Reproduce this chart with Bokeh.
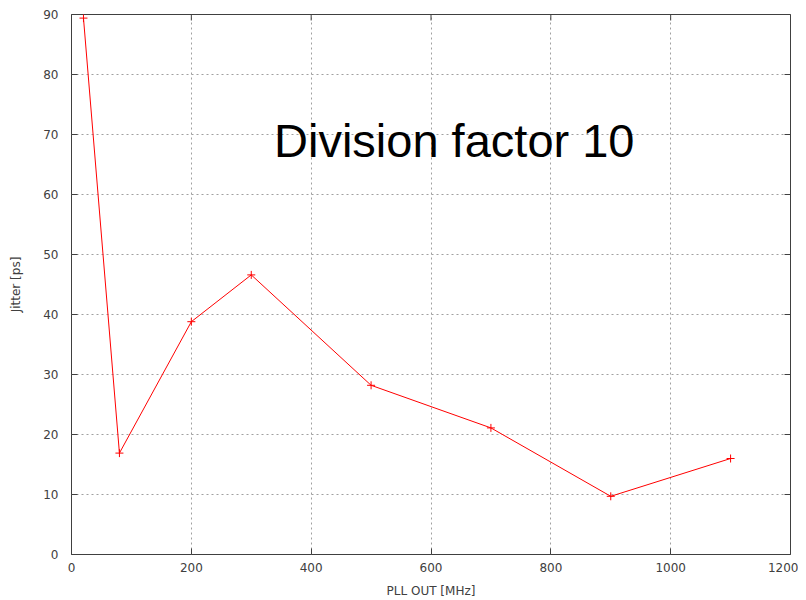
import math
from bokeh.plotting import figure
from bokeh.models import Range1d, FixedTicker, Label, ColumnDataSource
from bokeh.embed import file_html
from bokeh.resources import INLINE

# data
pll_out_mhz = [20, 80, 200, 300, 500, 700, 900, 1100]
jitter_ps = [89.4, 16.9, 38.8, 46.6, 28.2, 21.1, 9.7, 16.0]
x_ticks = [0, 200, 400, 600, 800, 1000, 1200]
y_ticks = [0, 10, 20, 30, 40, 50, 60, 70, 80, 90]
title_text = "Division factor 10"
x_label = "PLL OUT [MHz]"
y_label = "Jitter [ps]"

x_min, x_max = 0, 1200
y_min, y_max = 0, 90

src = ColumnDataSource(dict(x=pll_out_mhz, y=jitter_ps))

p = figure(frame_width=719, frame_height=540, output_backend="svg", toolbar_location=None,
           x_range=Range1d(x_min, x_max), y_range=Range1d(y_min, y_max),
           min_border_left=71, min_border_right=8, min_border_top=14, min_border_bottom=38,
           background_fill_color="white", border_fill_color="white")

p.outline_line_color = "#404040"
p.outline_line_width = 1

tick_col = "#404040"
for ax in (p.xaxis[0], p.yaxis[0]):
    ax.axis_line_color = None
    ax.major_tick_in = 6
    ax.major_tick_out = 0
    ax.major_tick_line_color = "#404040"
    ax.minor_tick_line_color = None
    ax.major_label_text_font = "DejaVu Sans"
    ax.major_label_text_font_size = "12px"
    ax.major_label_text_color = tick_col
    ax.axis_label_text_font = "DejaVu Sans"
    ax.axis_label_text_font_size = "12px"
    ax.axis_label_text_font_style = "normal"
    ax.axis_label_text_color = tick_col

p.xaxis[0].ticker = FixedTicker(ticks=x_ticks)
p.yaxis[0].ticker = FixedTicker(ticks=y_ticks)
p.xaxis[0].axis_label = x_label
p.yaxis[0].axis_label = y_label
p.xaxis[0].major_label_standoff = 8
p.xaxis[0].axis_label_standoff = 9
p.yaxis[0].major_label_standoff = 13
p.yaxis[0].axis_label_standoff = 17

p.xgrid.ticker = FixedTicker(ticks=x_ticks)
p.ygrid.ticker = FixedTicker(ticks=y_ticks)
for g in (p.xgrid[0], p.ygrid[0]):
    g.grid_line_color = "#a0a0a0"
    g.grid_line_dash = "2 3"
    g.grid_line_width = 1

# mirror ticks on right and top edges (clipped to frame, so half shows inside)
p.scatter([x_max] * len(y_ticks), y_ticks, marker="dash", size=12,
          line_color="#404040", line_width=1)
p.scatter(x_ticks, [y_max] * len(x_ticks), marker="dash", size=12, angle=math.pi / 2,
          line_color="#404040", line_width=1)

p.line("x", "y", source=src, line_color="red", line_width=1)
p.scatter("x", "y", source=src, marker="cross", size=8, line_color="red", line_width=1)

p.add_layout(Label(x=338, y=69, text=title_text, text_font="Liberation Sans",
                   text_font_size="47px", text_color="black",
                   text_align="left", text_baseline="alphabetic"))

open("out.html", "w").write(file_html(p, INLINE))
